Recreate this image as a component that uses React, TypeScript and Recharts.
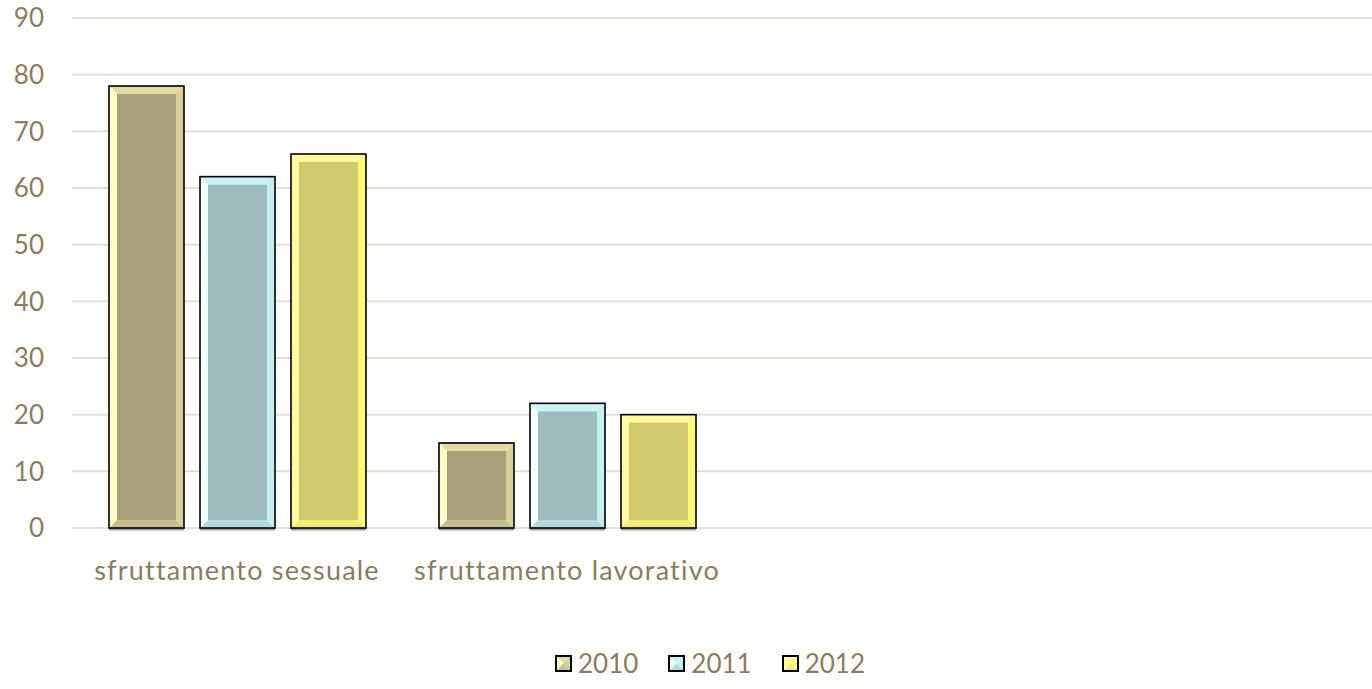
import { BarChart, Bar, XAxis, YAxis, CartesianGrid, Legend } from 'recharts';

const categories = ['sfruttamento sessuale', 'sfruttamento lavorativo', '', ' '];
const values2010 = [78, 15, null, null];
const values2011 = [62, 22, null, null];
const values2012 = [66, 20, null, null];
const yTicks = [0, 10, 20, 30, 40, 50, 60, 70, 80, 90];

const data = categories.map((name, i) => ({
  name,
  '2010': values2010[i],
  '2011': values2011[i],
  '2012': values2012[i],
}));

const TEXT = '#8a7d5c';
const FONT = 'Lato, "Open Sans", sans-serif';

// bevel palette per series: centre, top, left, right, bottom
const BEVEL: Record<string, string[]> = {
  '2010': ['#a6a07a', '#e0dba0', '#fffcc8', '#d6d198', '#c5c08f'],
  '2011': ['#9ebcbc', '#c8f4f4', '#f5ffff', '#c4f0ee', '#b2dcdc'],
  '2012': ['#d2c96c', '#fefa9a', '#fffca5', '#fff878', '#f4ec78'],
};

const BevelBar = (props: any) => {
  const { x, y, width: w, height: h, dataKey } = props;
  if (!h || h <= 0) return null;
  const c = BEVEL[dataKey];
  const b = Math.min(8, w / 4, h / 4);
  return (
    <g>
      <rect x={x} y={y + h} width={w} height={2.5} fill="#9a9a9a" />
      <polygon points={`${x},${y} ${x + w},${y} ${x + w - b},${y + b} ${x + b},${y + b}`} fill={c[1]} />
      <polygon points={`${x},${y} ${x + b},${y + b} ${x + b},${y + h - b} ${x},${y + h}`} fill={c[2]} />
      <polygon points={`${x + w},${y} ${x + w},${y + h} ${x + w - b},${y + h - b} ${x + w - b},${y + b}`} fill={c[3]} />
      <polygon points={`${x},${y + h} ${x + w},${y + h} ${x + w - b},${y + h - b} ${x + b},${y + h - b}`} fill={c[4]} />
      <rect x={x + b} y={y + b} width={w - 2 * b} height={h - 2 * b} fill={c[0]} />
      <rect x={x} y={y} width={w} height={h} fill="none" stroke="#000" strokeWidth={1.6} />
    </g>
  );
};

const LegendContent = () => (
  <div style={{ display: 'flex', justifyContent: 'center', alignItems: 'center', paddingTop: 3, paddingLeft: 28, fontFamily: FONT, fontSize: 26, color: TEXT, lineHeight: '22px' }}>
    {['2010', '2011', '2012'].map((k, i) => {
      const c = BEVEL[k];
      return (
        <div key={k} style={{ display: 'flex', alignItems: 'center', marginRight: i < 2 ? 30 : 0 }}>
          <svg width={17} height={17} style={{ marginRight: 6, flexShrink: 0, display: 'block' }}>
            <polygon points="1,1 16,1 8.5,8.5" fill={c[1]} />
            <polygon points="1,1 8.5,8.5 1,16" fill={c[2]} />
            <polygon points="16,1 16,16 8.5,8.5" fill={c[3]} />
            <polygon points="1,16 16,16 8.5,8.5" fill={c[4]} />
            <rect x={1} y={1} width={15} height={15} fill="none" stroke="#000" strokeWidth={2} />
          </svg>
          <span>{k}</span>
        </div>
      );
    })}
  </div>
);

export default function App() {
  return (
    <div style={{ position: 'absolute', left: 0, top: 0, width: 1372, height: 689, overflow: 'hidden', background: '#fff' }}>
      <BarChart
        width={1430}
        height={689}
        data={data}
        margin={{ top: 18, right: 38, left: 0, bottom: 0 }}
        barSize={75}
        barGap={16}
      >
        <CartesianGrid vertical={false} stroke="#e4e0d4" strokeWidth={2} />
        <XAxis
          dataKey="name"
          axisLine={false}
          tickLine={false}
          tickSize={0}
          tickMargin={33}
          height={121}
          interval={0}
          tick={{ fill: TEXT, fontSize: 27, fontFamily: FONT, letterSpacing: 1.2 }}
        />
        <YAxis
          domain={[0, 90]}
          ticks={yTicks}
          axisLine={false}
          tickLine={false}
          tickSize={0}
          tickMargin={28}
          width={72}
          tick={{ fill: TEXT, fontSize: 26, fontFamily: FONT }}
        />
        <Legend verticalAlign="bottom" height={40} content={<LegendContent />} />
        <Bar dataKey="2010" shape={<BevelBar dataKey="2010" />} isAnimationActive={false} />
        <Bar dataKey="2011" shape={<BevelBar dataKey="2011" />} isAnimationActive={false} />
        <Bar dataKey="2012" shape={<BevelBar dataKey="2012" />} isAnimationActive={false} />
      </BarChart>
    </div>
  );
}
